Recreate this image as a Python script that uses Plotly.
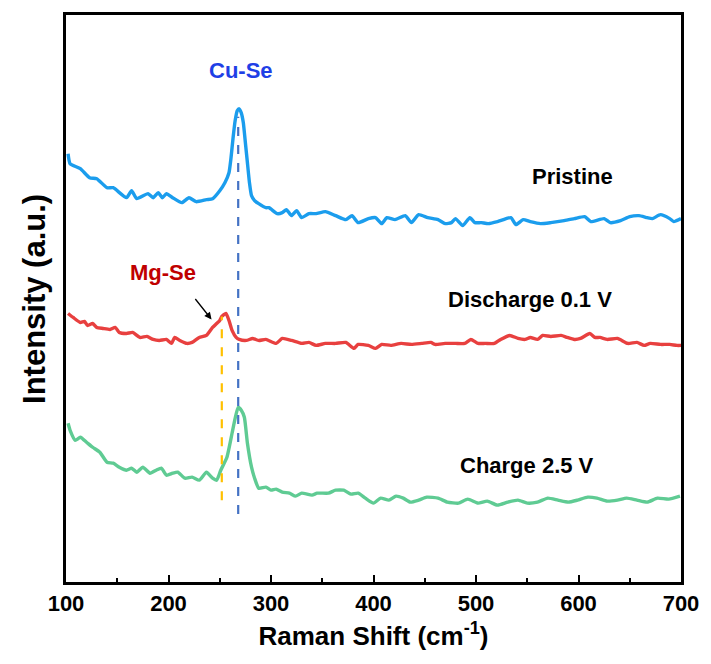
import plotly.graph_objects as go

# Raman spectra (shift in cm-1, intensity in arbitrary offset units)
pristine_x = [102, 104, 114, 123, 130, 140, 146, 159, 164, 169, 180, 185, 190, 194, 198, 204, 213, 220,
              227, 237, 243, 250, 255, 259, 261, 263, 265, 267, 269, 271, 273, 275, 277, 279, 281, 284,
              288, 295, 298, 306, 311, 315, 320, 325, 330, 337, 344, 353, 363, 373, 379, 385, 395, 402,
              408, 413, 421, 431, 437, 444, 453, 463, 470, 476, 480, 487, 494, 499, 505, 512, 521, 534,
              539, 546, 553, 563, 573, 586, 596, 606, 612, 625, 631, 641, 650, 659, 667, 672, 680, 689,
              693, 700]
pristine_y = [429, 419, 414, 405, 404, 395, 395, 385, 392, 384, 389, 385, 390, 385, 389, 385, 380, 385,
              381, 383, 384, 392, 400, 410, 425, 445, 462, 472, 474, 470, 460, 440, 420, 400, 387, 382,
              379, 375, 375, 369, 370, 373, 367, 372, 365, 369, 369, 371, 367, 363, 367, 360, 364, 365,
              359, 365, 363, 367, 360, 368, 365, 363, 359, 360, 364, 357, 365, 360, 360, 359, 361, 365,
              358, 363, 361, 359, 360, 362, 364, 366, 361, 364, 360, 362, 366, 367, 365, 364, 368, 364,
              361, 364]

discharge_x = [102, 107, 114, 118, 121, 126, 130, 136, 143, 148, 152, 159, 165, 172, 179, 185, 191, 198,
               203, 206, 211, 218, 223, 230, 237, 243, 247, 250, 252, 256, 259, 262, 266, 269, 276, 282,
               288, 295, 305, 311, 320, 330, 337, 344, 353, 363, 373, 381, 385, 395, 402, 408, 417, 427,
               437, 447, 456, 460, 470, 480, 489, 495, 502, 509, 518, 524, 533, 541, 548, 553, 560, 565,
               573, 583, 589, 596, 602, 611, 616, 621, 628, 638, 648, 657, 664, 670, 680, 689, 696, 700]
discharge_y = [269, 265, 260, 261, 257, 259, 255, 254, 253, 255, 250, 249, 250, 245, 246, 243, 242, 243,
               239, 245, 242, 239, 240, 245, 247, 255, 259, 262, 266, 269, 262, 252, 245, 243, 242, 244,
               242, 243, 239, 244, 242, 239, 240, 237, 239, 239, 240, 234, 238, 237, 234, 238, 237, 239,
               238, 239, 240, 238, 239, 239, 239, 243, 239, 239, 239, 243, 247, 244, 243, 245, 243, 247,
               246, 247, 245, 243, 244, 249, 245, 245, 243, 244, 239, 240, 237, 239, 238, 238, 237, 237]

charge_x = [102, 104, 109, 114, 120, 126, 133, 140, 146, 152, 159, 164, 169, 175, 182, 188, 193, 198,
            204, 209, 216, 223, 230, 237, 243, 247, 251, 257, 262, 265, 268, 271, 274, 277, 281, 284,
            288, 295, 300, 305, 311, 318, 324, 330, 340, 345, 356, 363, 371, 378, 385, 392, 400, 407,
            415, 422, 429, 436, 444, 452, 463, 472, 483, 492, 502, 511, 521, 531, 541, 550, 560, 570,
            580, 590, 599, 609, 618, 628, 638, 647, 657, 667, 677, 688, 699]
charge_y = [159, 152, 142, 145, 140, 135, 130, 120, 119, 115, 112, 114, 110, 115, 109, 112, 114, 107,
            109, 110, 104, 105, 102, 110, 104, 102, 112, 125, 149, 164, 175, 172, 165, 139, 115, 104,
            94, 95, 92, 93, 90, 89, 86, 89, 87, 89, 89, 92, 92, 88, 89, 84, 79, 84, 82, 86, 84, 80,
            82, 85, 84, 80, 79, 83, 79, 81, 77, 80, 82, 79, 80, 84, 82, 80, 82, 85, 84, 81, 82, 84,
            82, 80, 84, 83, 86]

# Reference peak positions (cm-1) and the vertical extent of their guide lines
cuse_peak = 268
cuse_span = [68, 466]
mgse_peak = 252
mgse_span = [82, 266]

series = [
    ("Pristine", pristine_x, pristine_y, "#1b9ded"),
    ("Discharge 0.1 V", discharge_x, discharge_y, "#e8403f"),
    ("Charge 2.5 V", charge_x, charge_y, "#5fcb93"),
]

fig = go.Figure()
for name, xs, ys, color in series:
    fig.add_trace(go.Scatter(x=xs, y=ys, mode="lines", name=name,
                             line=dict(color=color, width=3.4, shape="spline", smoothing=0.5)))

fig.add_trace(go.Scatter(x=[cuse_peak, cuse_peak], y=cuse_span, mode="lines",
                         line=dict(color="#4472c4", width=2.2, dash="dash")))
fig.add_trace(go.Scatter(x=[mgse_peak, mgse_peak], y=mgse_span, mode="lines",
                         line=dict(color="#ffc000", width=2.2, dash="dash")))

bold = "Arial, Liberation Sans, sans-serif"
labels = [
    ("Pristine", 594, 406),
    ("Discharge 0.1 V", 553, 283),
    ("Charge 2.5 V", 550, 117),
]
for text, x, y in labels:
    fig.add_annotation(x=x, y=y, text="<b>%s</b>" % text, showarrow=False,
                       font=dict(family=bold, size=22, color="black"))

fig.add_annotation(x=271, y=512, text="<b>Cu-Se</b>", showarrow=False,
                   font=dict(family=bold, size=22, color="#1f3fe6"))
fig.add_annotation(x=195, y=310, text="<b>Mg-Se</b>", showarrow=False,
                   font=dict(family=bold, size=22, color="#c00000"))
fig.add_annotation(x=242, y=263, ax=225, ay=285, xref="x", yref="y", axref="x", ayref="y",
                   text="", showarrow=True, arrowhead=2, arrowsize=1.1, arrowwidth=1.3,
                   arrowcolor="black")

fig.add_annotation(x=-0.083, y=0.5, xref="paper", yref="paper", text="<b>Intensity (a.u.)</b>",
                   textangle=-90, showarrow=False,
                   font=dict(family=bold, size=31, color="black"))

fig.update_layout(
    width=711, height=664,
    margin=dict(l=66, r=27, t=14, b=82),
    paper_bgcolor="white", plot_bgcolor="white",
    showlegend=False,
    font=dict(family=bold, color="black"),
)
fig.update_xaxes(
    range=[100, 700], tickvals=[100, 200, 300, 400, 500, 600, 700],
    ticktext=["<b>%d</b>" % v for v in [100, 200, 300, 400, 500, 600, 700]],
    tickfont=dict(family=bold, size=22, color="black"),
    ticks="inside", ticklen=7, tickwidth=2, tickcolor="black",
    minor=dict(dtick=50, ticks="inside", ticklen=4, tickwidth=2, tickcolor="black"),
    showline=True, linecolor="black", linewidth=2.5, mirror=True,
    showgrid=False, zeroline=False,
    title=dict(text="<b>Raman Shift (cm<sup>-1</sup>)</b>", font=dict(family=bold, size=26, color="black"),
               standoff=12),
)
fig.update_yaxes(
    range=[0, 568], showticklabels=False, ticks="",
    showline=True, linecolor="black", linewidth=2.5, mirror=True,
    showgrid=False, zeroline=False,
)

fig.write_html("out.html")
